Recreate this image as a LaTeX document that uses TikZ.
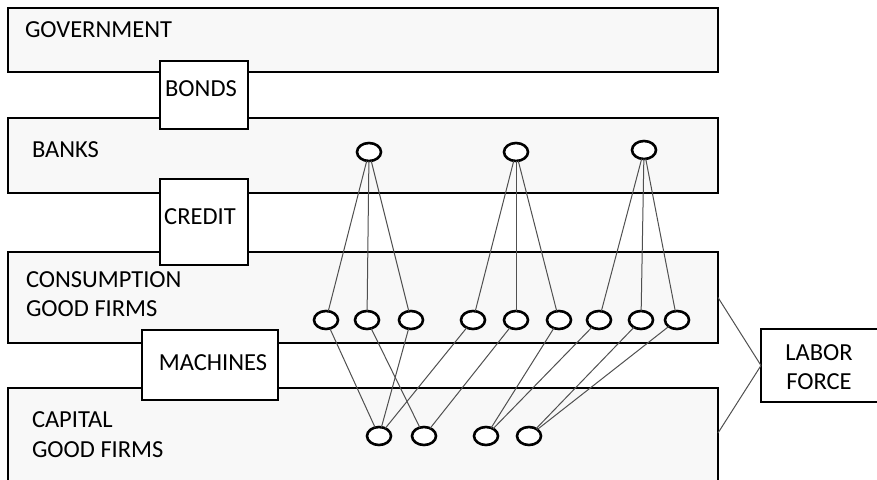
\documentclass[tikz,border=0pt]{standalone}
\usepackage{fontspec}
\setmainfont{Carlito}
\usetikzlibrary{shapes.geometric}
\definecolor{bandgray}{HTML}{F8F8F8}
\definecolor{linkgray}{HTML}{505050}
\begin{document}
\begin{tikzpicture}[x=1pt,y=-1pt,
  band/.style={draw=black, line width=1.6pt, fill=bandgray, rectangle, inner sep=0pt, outer sep=0pt, anchor=north west},
  flowbox/.style={draw=black, line width=2.6pt, fill=white, rectangle, inner sep=0pt, outer sep=0pt, anchor=north west},
  agent/.style={draw=black, line width=2.6pt, fill=white, ellipse, minimum width=24pt, minimum height=18pt, inner sep=0pt, outer sep=0pt},
  link/.style={draw=linkgray, line width=1pt},
  lbl/.style={font=\fontsize{24.5}{29}\selectfont, inner sep=0pt, outer sep=0pt, text=black}]
\useasboundingbox (0,0) rectangle (877,479);
\clip (0,0) rectangle (877,479);
% bands
\node[band, minimum width=710pt, minimum height=64pt] (gov) at (8,8) {};
\node[band, minimum width=710pt, minimum height=75pt] (banks) at (8,118) {};
\node[band, minimum width=710pt, minimum height=91pt] (cons) at (8,252) {};
\node[band, minimum width=710pt, minimum height=110pt] (cap) at (8,388) {};
\coordinate (capport) at (718,433);
% agents
\foreach \n/\x/\y in {b1/369/152, b2/516/152, b3/644/150,
  c1/326/320, c2/367/320, c3/411/320, c4/473/320, c5/516/320, c6/559/320, c7/599/320, c8/641/320, c9/677/320,
  k1/379/436, k2/424/436, k3/486/436, k4/529/436}
  \node[agent] (\n) at (\x,\y) {};
% links banks -> consumption firms
\foreach \b/\c in {b1/c1, b1/c2, b1/c3, b2/c4, b2/c5, b2/c6, b3/c7, b3/c8, b3/c9}
  \draw[link] (\b) -- (\c);
% links consumption firms -> capital firms
\foreach \c/\k in {c1/k1, c2/k2, c3/k1, c4/k1, c5/k2, c6/k3, c7/k3, c8/k4, c9/k4}
  \draw[link] (\c) -- (\k);
% flow boxes
\node[flowbox, minimum width=88pt, minimum height=68pt] (bonds) at (160,61) {};
\node[flowbox, minimum width=88pt, minimum height=86pt] (credit) at (160,179) {};
\node[flowbox, minimum width=136pt, minimum height=70pt] (machines) at (142,330) {};
\node[flowbox, minimum width=120pt, minimum height=73pt] (labor) at (761,329) {};
% labor links
\draw[link] (cons.east) -- (labor.west);
\draw[link] (capport) -- (labor.west);
% labels
\node[lbl, anchor=base west] (tgov) at (25,37) {GOVERNMENT};
\node[lbl, anchor=base west] (tbanks) at (32,157) {BANKS};
\node[lbl, anchor=base west] (tcons1) at (26,287) {CONSUMPTION};
\node[lbl, anchor=base west] (tcons2) at (26,316) {GOOD FIRMS};
\node[lbl, anchor=base west] (tcap1) at (32,427) {CAPITAL};
\node[lbl, anchor=base west] (tcap2) at (32,457) {GOOD FIRMS};
\node[lbl, anchor=base] (tbonds) at (201,96) {BONDS};
\node[lbl, anchor=base] (tcredit) at (200,224) {CREDIT};
\node[lbl, anchor=base] (tmach) at (213,370) {MACHINES};
\node[lbl, anchor=base] (tlabor1) at (819,360) {LABOR};
\node[lbl, anchor=base] (tlabor2) at (819,389) {FORCE};
\end{tikzpicture}
\end{document}
